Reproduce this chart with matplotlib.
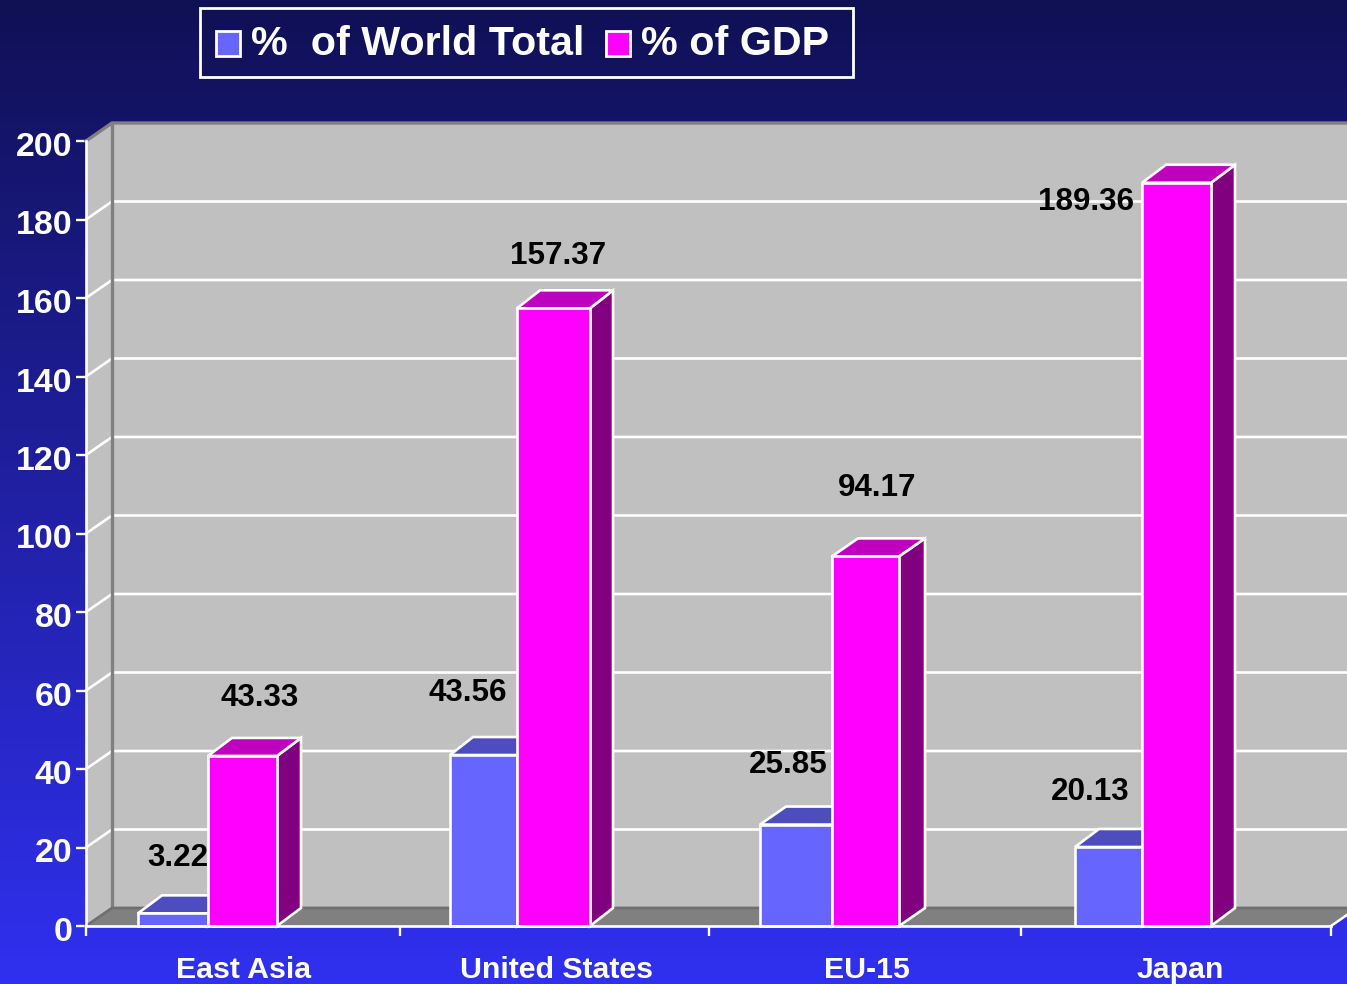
import numpy as np
import matplotlib
matplotlib.use("Agg")
import matplotlib.pyplot as plt
from matplotlib.patches import Patch, Rectangle
from matplotlib.legend_handler import HandlerPatch
from matplotlib.transforms import ScaledTranslation, Affine2D

categories = ["East Asia", "United States", "EU-15", "Japan"]
world_total = [3.22, 43.56, 25.85, 20.13]
pct_gdp = [43.33, 157.37, 94.17, 189.36]
y_ticks = list(range(0, 201, 20))
series_names = ["%  of World Total", "% of GDP"]

W, H = 1347, 984
X0, X1, Y0, Y1 = 86, 1331, 926, 141   # front plane, pixels
DX, DY = 26, 18                        # depth in pixels
blue_left = [138, 450, 760, 1075]
split = [208, 517, 832, 1142]
pink_right = [277, 590, 899, 1211]
side_dx = [24, 23, 26, 24]
cat_x = [244, 556, 867, 1180]
group_ticks = [86, 400, 709, 1021, 1331]
world_label_px = [(178, 858), (468, 693), (788, 765), (1090, 792)]
gdp_label_px = [(260, 698), (558, 256), (877, 488), (1086, 202)]

WHITE = "white"
WALL, FLOOR, EDGE = "#c0c0c0", "#808080", "#808080"
BLUE, BLUE_TOP = "#6666ff", "#4d4dbf"
PINK, PINK_TOP, PINK_SIDE = "#ff00ff", "#bf00bf", "#800080"

plt.rcParams["font.family"] = ["Liberation Sans", "DejaVu Sans"]
plt.rcParams["font.weight"] = "bold"

fig = plt.figure(figsize=(W / 100, H / 100), dpi=100)

bg = fig.add_axes([0, 0, 1, 1], zorder=0)
bg.axis("off")
t = np.linspace(0, 1, 256)[:, None]
grad = np.dstack([16 + 32 * t, 16 + 32 * t, 85 + 155 * t]) / 255
bg.imshow(grad, aspect="auto", extent=[0, 1, 0, 1], origin="upper")

ax = fig.add_axes([X0 / W, 1 - Y0 / H, (X1 - X0) / W, (Y0 - Y1) / H], zorder=1)
ax.set_xlim(X0, X1)
ax.set_ylim(0, 200)
ax.patch.set_alpha(0)
unit = (Y0 - Y1) / 200
dy = DY / unit
x_far = W + 20

# walls and floor
ax.fill([X0 + DX, x_far, x_far, X0 + DX], [dy, dy, 200 + dy, 200 + dy], color=WALL, lw=0, clip_on=False, zorder=1)
ax.fill([X0, X0 + DX, X0 + DX, X0], [0, dy, 200 + dy, 200], color=WALL, lw=0, clip_on=False, zorder=1)
ax.fill([X0, X1, X1 + DX, X0 + DX], [0, 0, dy, dy], color=FLOOR, lw=0, clip_on=False, zorder=1)

# gridlines
for v in y_ticks[1:-1]:
    ax.plot([X0, X0 + DX, x_far], [v, v + dy, v + dy], color=WHITE, lw=1.9, clip_on=False, zorder=2)

# wall borders
ax.plot([X0, X0 + DX, x_far], [200, 200 + dy, 200 + dy], color=EDGE, lw=2.4, clip_on=False, zorder=2.5)
ax.plot([X0 + DX, X0 + DX], [dy, 200 + dy], color=EDGE, lw=2.4, clip_on=False, zorder=2.5)
ax.plot([X0, X0 + DX, x_far], [0, dy, dy], color="#6f6f6f", lw=2.0, clip_on=False, zorder=2.5)
ax.plot([X1, X1 + DX], [0, dy], color=WHITE, lw=1.8, clip_on=False, zorder=2.5)


def bar3d(left, right, value, face, top, side, z, d):
    ax.fill([right, right + d, right + d, right], [0, dy, value + dy, value],
            facecolor=side, edgecolor=WHITE, lw=1.9, zorder=z, clip_on=False)
    ax.fill([left, left + d, right + d, right], [value, value + dy, value + dy, value],
            facecolor=top, edgecolor=WHITE, lw=1.9, zorder=z, clip_on=False)
    ax.bar(left, value, width=right - left, align="edge", facecolor=face,
           edgecolor=WHITE, lw=1.9, zorder=z + 0.1, clip_on=False)


for i in range(len(categories)):
    bar3d(blue_left[i], split[i], world_total[i], BLUE, BLUE_TOP, BLUE_TOP, 3 + i * 0.01, side_dx[i])
    bar3d(split[i], pink_right[i], pct_gdp[i], PINK, PINK_TOP, PINK_SIDE, 4 + i * 0.01, side_dx[i])

# axes furniture
for s in ("top", "right"):
    ax.spines[s].set_visible(False)
for s in ("left", "bottom"):
    ax.spines[s].set_color(WHITE)
    ax.spines[s].set_linewidth(1.9)
    ax.spines[s].set_zorder(6)
ax.set_yticks(y_ticks)
ax.set_xticks(group_ticks)
ax.set_xticklabels([])
ax.tick_params(axis="both", length=7.2, width=1.7, color=WHITE)
ax.tick_params(axis="y", labelcolor=WHITE, labelsize=24.4, pad=2.5)
shift = ScaledTranslation(0, -3 / 100, fig.dpi_scale_trans)
for lab in ax.get_yticklabels():
    lab.set_transform(lab.get_transform() + shift)
    lab.set_fontweight("bold")

# pixel coordinates for text placement
px = Affine2D().scale(1 / W, -1 / H).translate(0, 1) + fig.transFigure
for name, cx in zip(categories, cat_x):
    fig.text(cx, 970, name, transform=px, color=WHITE, fontsize=21.8, fontweight="bold",
             ha="center", va="center", zorder=5)
for values, places in ((world_total, world_label_px), (pct_gdp, gdp_label_px)):
    for v, (lx, ly) in zip(values, places):
        ax.text(lx, ly, f"{v:.2f}", transform=px, color="black", fontsize=22.6, fontweight="bold",
                ha="center", va="center", zorder=8, clip_on=False)


def low_square(legend, orig_handle, xdescent, ydescent, width, height, fontsize):
    return Rectangle((-xdescent, -ydescent - 2.2), width, height)


handles = [Patch(facecolor=BLUE, edgecolor=WHITE, lw=2.0), Patch(facecolor=PINK, edgecolor=WHITE, lw=2.0)]
leg = fig.legend(handles, series_names, ncol=2, loc="center left",
                 bbox_to_anchor=(216 / W, 1 - 44 / H), bbox_transform=fig.transFigure,
                 labelcolor=WHITE, frameon=False,
                 handlelength=0.585, handleheight=0.585,
                 handletextpad=0.27, columnspacing=0.51, borderpad=0, borderaxespad=0,
                 handler_map={Patch: HandlerPatch(patch_func=low_square)},
                 prop={"size": 29.7, "weight": "bold"})
leg.set_zorder(10)
fig.add_artist(Rectangle((200, 8), 653, 69, transform=px, fill=False, edgecolor=WHITE, lw=2.0, zorder=9))

fig.savefig("out.png", dpi=100)
